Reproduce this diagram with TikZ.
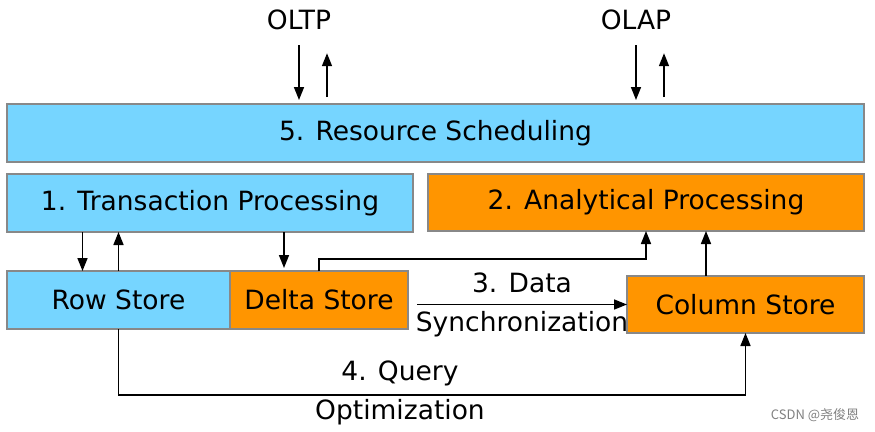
\documentclass[tikz,border=0pt]{standalone}
\usepackage{fontspec}
\setmainfont{DejaVu Sans}
\newfontfamily\cjk{Noto Sans CJK SC}
\usetikzlibrary{arrows.meta}

\definecolor{boxblue}{RGB}{118,213,255}
\definecolor{boxorange}{RGB}{255,149,0}
\definecolor{boxline}{RGB}{136,136,136}

\begin{document}
\begin{tikzpicture}
[x=1pt,y=-1pt,
  arrowDecorate/.style={-{Triangle[length=13pt,width=10pt]},line width=1.6pt},%
  boxDecorate/.style={draw=boxline,line width=1.5pt,anchor=north west,inner sep=0pt,outer sep=0pt,font=\fontsize{26.5}{30}\selectfont},%
  blueBox/.style={boxDecorate,fill=boxblue},%
  orangeBox/.style={boxDecorate,fill=boxorange},%
  labelDecorate/.style={inner sep=0pt,font=\fontsize{26.5}{30}\selectfont}]
\useasboundingbox (0,0) rectangle (875,431);
%% boxes
\node (res) at (7,104) [blueBox,minimum width=857pt,minimum height=58pt] {5. Resource Scheduling};
\node (tp) at (7,174) [blueBox,minimum width=406pt,minimum height=58pt] {1. Transaction Processing};
\node (ap) at (428,174) [orangeBox,minimum width=436pt,minimum height=57pt] {2. Analytical Processing};
\node (row) at (7,271) [blueBox,minimum width=223pt,minimum height=58pt] {Row Store};
\node (delta) at (230,271) [orangeBox,minimum width=178pt,minimum height=58pt] {Delta Store};
\node (col) at (627,276) [orangeBox,minimum width=237pt,minimum height=57pt] {Column Store};
%% labels
\node (oltp) at (299,20) [labelDecorate] {OLTP};
\node (olap) at (636,20) [labelDecorate] {OLAP};
\node (query) at (400,373) [labelDecorate] {4. Query};
\node (optim) at (400,412) [labelDecorate] {Optimization};
\node (mark) at (815,415) [inner sep=0pt,text=gray,font=\cjk\fontsize{13}{15}\selectfont] {CSDN @尧俊恩};
%% edges or lines
\foreach \top in {oltp, olap}
{
  \draw[arrowDecorate] ([yshift=-15pt]\top.south) -- ([yshift=4pt]\top.south |- res.north);
  \draw[arrowDecorate] ([xshift=28pt,yshift=7pt]\top.south |- res.north) -- ([xshift=28pt,yshift=-23pt]\top.south);
}
\draw[arrowDecorate] ([xshift=-36pt]tp.south -| row.north) -- ([xshift=-36pt]row.north);
\draw[arrowDecorate] (row.north) -- (row.north |- tp.south);
\draw[arrowDecorate] ([xshift=-35pt]tp.south -| delta.north) -- ([xshift=-35pt,yshift=3pt]delta.north);
\draw[arrowDecorate] (delta.north) -- ++(0,-12) -| (ap.south);
\draw[arrowDecorate] ([xshift=60pt]ap.south |- col.north) -- ([xshift=60pt]ap.south);
\draw[arrowDecorate] ([xshift=9pt]delta.east |- col.west) -- (col.west)
  node[midway,above=11pt,labelDecorate] {3. Data}
  node[midway,below=6pt,labelDecorate] {Synchronization};
\draw[arrowDecorate] (row.south) -- ++(0,66) -| (col.south);
\end{tikzpicture}
\end{document}
